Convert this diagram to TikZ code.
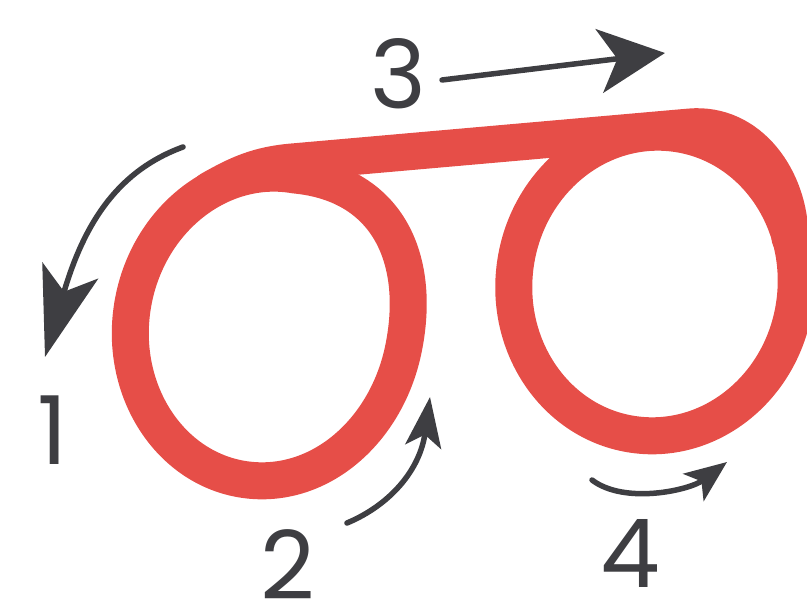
\documentclass[tikz,border=0pt]{standalone}
\usepackage{fontspec}
\setmainfont{Poppins}
\usetikzlibrary{arrows.meta}
\definecolor{looprd}{HTML}{E64E48}
\definecolor{penink}{HTML}{3E3E42}
\begin{document}
\begin{tikzpicture}[x=1pt,y=-1pt,line cap=round,line join=round,
  loopline/.style={draw=looprd,line width=37pt},
  hint/.style={draw=penink,line width=5.5pt},
  digit/.style={text=penink,inner sep=0pt,font=\fontsize{95}{95}\selectfont}]
  \useasboundingbox (0,0) rectangle (807,610);
  \begin{scope}
    \clip (0,0) rectangle (807,610);
    % left loop
    \draw[loopline] (295,175) .. controls (390,184) and (422,262) .. (403,351)
      .. controls (385,434) and (316,492) .. (241,479)
      .. controls (167,466) and (118,387) .. (133,303)
      .. controls (148,219) and (221,162) .. cycle;
    % right loop
    \draw[loopline,rotate around={-8:(655,284)}] (655,284) ellipse[x radius=141,y radius=152];
    % top bar
    \draw[loopline] (210,190) .. controls (238,174) and (258,165) .. (292,162)
      -- (690,127) .. controls (750,122) and (790,180) .. (790,238);
  \end{scope}
  % stroke order
  \draw[hint,-{Stealth[length=90pt,width=58pt,inset=22pt]}] (183,147) .. controls (120,170) and (85,220) .. (45,357);
  \draw[hint,-{Stealth[length=50pt,width=36pt,inset=12pt]}] (347,523) .. controls (390,505) and (420,470) .. (430,397);
  \draw[hint,-{Stealth[length=66pt,width=64pt,inset=18pt]}] (442,80) -- (665,53);
  \draw[hint,-{Stealth[length=42pt,width=34pt,inset=10pt]}] (592,480) .. controls (625,505) and (690,490) .. (727,462);
  \node[digit] (num1) at (53,430) {1};
  \node[digit] (num2) at (288,565) {2};
  \node[digit] (num3) at (398,74) {3};
  \node[digit] (num4) at (630,553) {4};
\end{tikzpicture}
\end{document}
